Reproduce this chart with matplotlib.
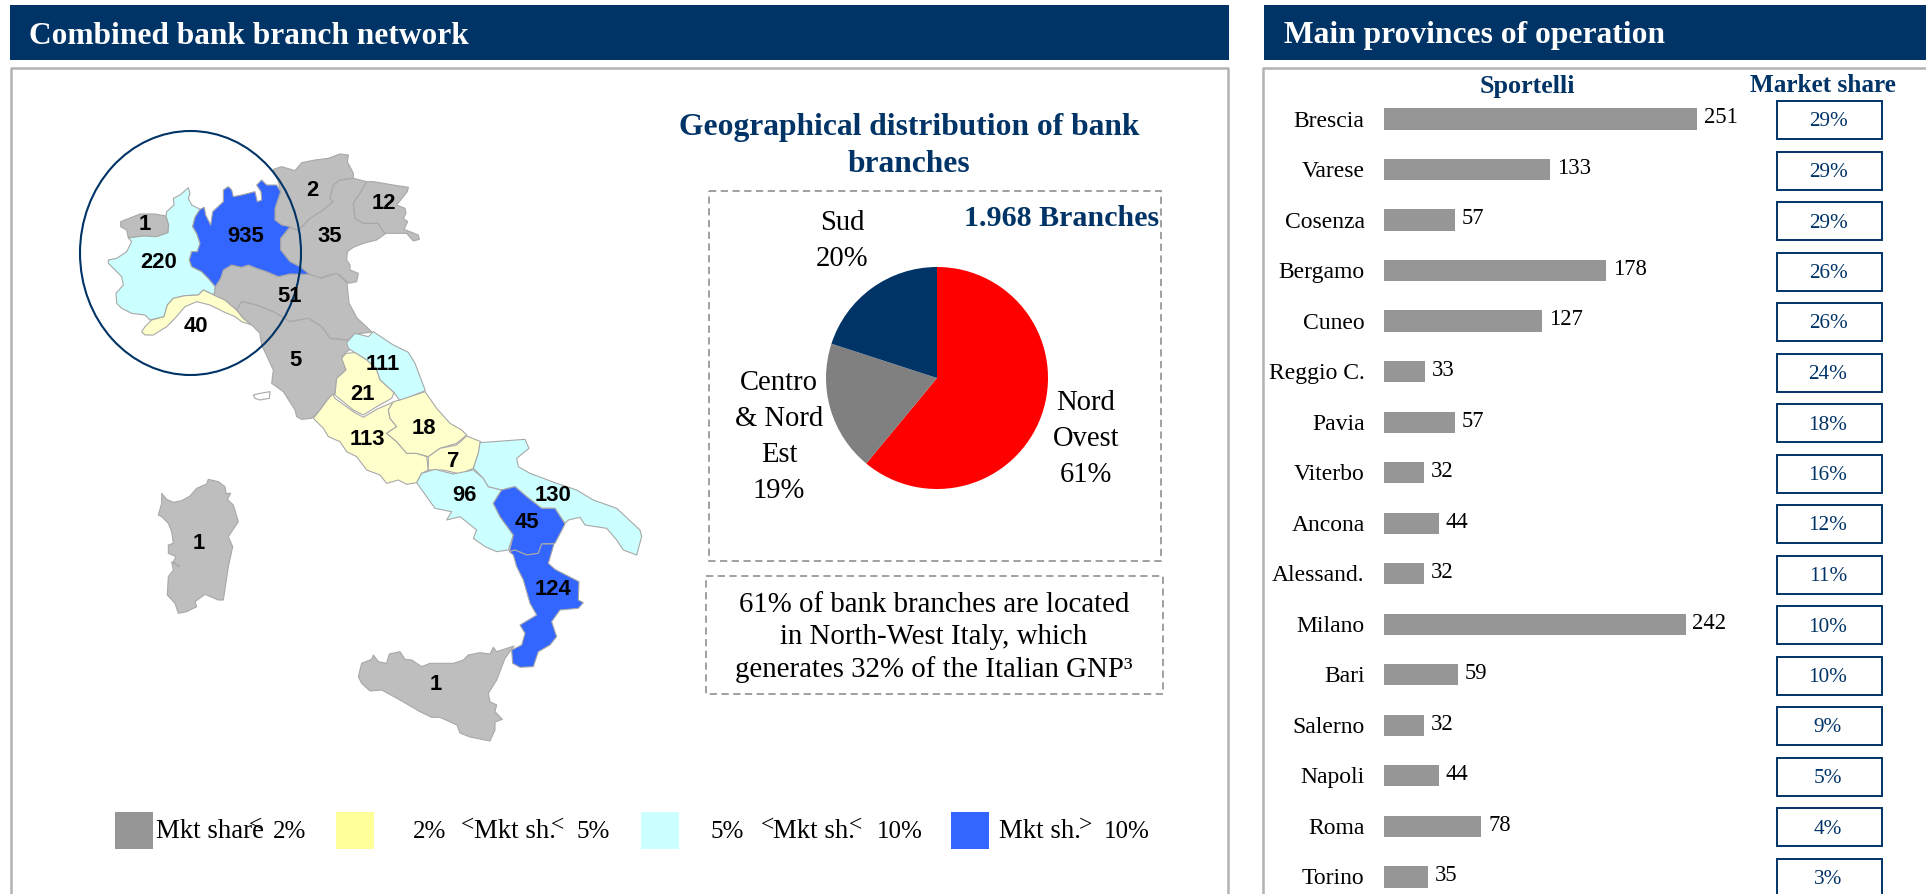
import matplotlib
matplotlib.use('Agg')
import matplotlib.pyplot as plt
from matplotlib.patches import Rectangle, Polygon, Ellipse

# chart values
provinces = ['Brescia', 'Varese', 'Cosenza', 'Bergamo', 'Cuneo', 'Reggio C.', 'Pavia', 'Viterbo',
             'Ancona', 'Alessand.', 'Milano', 'Bari', 'Salerno', 'Napoli', 'Roma', 'Torino']
sportelli = [251, 133, 57, 178, 127, 33, 57, 32, 44, 32, 242, 59, 32, 44, 78, 35]
market_share = ['29%', '29%', '29%', '26%', '26%', '24%', '18%', '16%',
                '12%', '11%', '10%', '10%', '9%', '5%', '4%', '3%']

pie_names = ['Nord\nOvest', 'Centro\n& Nord\nEst', 'Sud']
pie_values = [61, 19, 20]
pie_colors = ['#FF0000', '#808080', '#003366']

NAVY = '#003366'
FRAME = '#B2B2B2'
SERIF = 'Liberation Serif'


def z1(pts):
    return [(60 + x / 3, 130 + y / 3) for x, y in pts]


def z2(pts):
    return [(240 + x / 3, 320 + y / 3) for x, y in pts]


def z6(pts):
    return [(260 + x / 3, 140 + y / 3) for x, y in pts]


def z7(pts):
    return [(140 + x / 3, 460 + y / 3) for x, y in pts]


def z8(pts):
    return [(340 + x / 3, 630 + y / 3) for x, y in pts]


GREY, YEL, CYAN, BLUE = '#BEBEBE', '#FFFFCC', '#CCFFFF', '#3366FF'

regions = [
    (GREY, z1([(182, 275), (215, 262), (240, 252), (285, 252), (318, 258), (326, 285), (324, 308), (290, 320),
               (250, 318), (205, 324), (200, 300), (182, 290)])),
    (CYAN, z1([(385, 173), (390, 190), (385, 205), (395, 225), (420, 238), (405, 262), (398, 290), (410, 310),
               (420, 340), (412, 365), (395, 365), (388, 390), (395, 410), (425, 425), (445, 445), (466, 470),
               (462, 495), (430, 480), (415, 495), (375, 497), (340, 505), (322, 525), (312, 560), (270, 570),
               (255, 555), (215, 550), (185, 535), (170, 520), (168, 490), (190, 465), (185, 440), (165, 420),
               (145, 400), (145, 390), (170, 385), (200, 365), (215, 335), (205, 324), (250, 318), (290, 320),
               (324, 308), (326, 285), (318, 258), (320, 245), (342, 225), (340, 205), (360, 195)])),
    (YEL, z1([(245, 605), (255, 590), (275, 570), (312, 560), (322, 525), (340, 505), (375, 497), (415, 495),
              (430, 480), (462, 495), (495, 510), (530, 540), (550, 565), (575, 585), (545, 575), (525, 560),
              (490, 545), (450, 525), (410, 515), (375, 530), (345, 565), (320, 590), (280, 615), (255, 615)])),
    # Trentino
    (GREY, z6([(40, 88), (65, 80), (105, 92), (125, 68), (165, 60), (205, 55), (240, 42), (265, 45), (262, 65),
               (280, 100), (280, 115), (240, 120), (220, 135), (210, 175), (220, 185), (190, 210), (150, 235),
               (125, 262), (115, 272), (90, 262), (65, 255), (45, 240), (45, 205), (62, 155), (55, 125)])),
    # Veneto
    (GREY, z6([(115, 272), (125, 262), (150, 235), (190, 210), (220, 185), (210, 175), (220, 135), (240, 120),
               (280, 115), (320, 125), (300, 160), (280, 190), (285, 235), (310, 250), (355, 250), (370, 275),
               (378, 280), (350, 300), (310, 310), (280, 322), (262, 335), (260, 360), (270, 375), (270, 390),
               (295, 400), (290, 425), (265, 430), (240, 405), (210, 403), (180, 415), (148, 403), (120, 380),
               (90, 365), (62, 330), (62, 295), (90, 262)])),
    # Friuli
    (GREY, z6([(320, 125), (340, 125), (400, 135), (445, 142), (442, 155), (410, 195), (435, 205), (438, 220),
               (430, 235), (443, 245), (432, 268), (450, 275), (475, 285), (478, 298), (460, 303), (440, 280),
               (415, 280), (378, 280), (370, 275), (355, 250), (310, 250), (285, 235), (280, 190), (300, 160)])),
    # Emilia-Romagna
    (GREY, z1([(466, 470), (482, 445), (490, 420), (515, 405), (545, 412), (565, 405), (590, 415), (620, 425),
               (655, 440), (690, 432), (748, 433), (785, 445), (830, 430), (861, 459), (867, 519), (891, 564),
               (936, 606), (890, 612), (860, 630), (810, 625), (785, 590), (745, 565), (690, 575), (640, 545),
               (590, 525), (545, 515), (530, 540), (495, 510), (462, 495)])),
    # Toscana
    (GREY, z1([(530, 540), (545, 515), (590, 525), (640, 545), (690, 575), (745, 565), (785, 590), (810, 625),
               (860, 630), (890, 645)])
     + z2([(320, 95), (305, 110), (318, 150), (290, 175), (285, 220), (262, 240), (240, 270), (215, 295), (185, 298),
           (170, 290), (165, 270), (130, 215), (95, 190), (100, 150), (65, 75), (60, 45)])
     + z1([(600, 610), (575, 585), (550, 565)])),
    # Lombardia
    (BLUE, z1([(420, 238), (433, 232), (437, 255), (452, 285), (458, 245), (490, 215), (490, 180), (505, 170),
               (515, 180), (520, 200), (545, 195), (585, 185), (592, 215), (605, 210), (603, 185), (590, 165),
               (605, 150), (620, 165), (650, 165), (662, 185), (645, 235), (645, 270), (665, 285), (690, 290),
               (662, 325), (662, 360), (690, 395), (720, 410), (748, 433), (690, 432), (655, 440), (620, 425),
               (590, 415), (565, 405), (545, 412), (515, 405), (490, 420), (482, 445), (466, 470), (445, 445),
               (425, 425), (395, 410), (388, 390), (395, 365), (412, 365), (420, 340), (410, 310), (398, 290),
               (405, 262)])),
    # Marche
    (CYAN, z2([(320, 68), (345, 40), (385, 50), (400, 35), (460, 75), (505, 97), (525, 130), (556, 212), (480, 242),
               (462, 218), (420, 180), (408, 145), (380, 120), (345, 98), (325, 85)])),
    # Umbria
    (YEL, z2([(318, 100), (345, 98), (380, 120), (408, 145), (420, 180), (462, 218), (455, 235), (410, 260),
              (370, 285), (340, 270), (285, 225), (290, 175), (318, 150), (305, 115)])),
    # Lazio
    (YEL, z2([(220, 295), (240, 270), (262, 240), (278, 222), (285, 235), (340, 275), (370, 292), (410, 268),
              (460, 246), (445, 270), (450, 295), (470, 320), (440, 340), (470, 365), (500, 400), (530, 400),
              (560, 410), (565, 450), (545, 460), (530, 488), (500, 493), (475, 480), (440, 490), (420, 465),
              (380, 450), (350, 410), (320, 395), (300, 365), (265, 350), (250, 325)])),
    # Abruzzo
    (YEL, z2([(480, 240), (555, 215), (590, 265), (630, 310), (665, 330), (680, 345), (650, 370), (600, 385),
              (565, 410), (530, 400), (500, 400), (470, 365), (440, 340), (470, 320), (450, 295), (445, 270),
              (460, 245)])),
    # Molise
    (YEL, z2([(680, 348), (722, 365), (715, 400), (700, 445), (660, 462), (610, 450), (565, 450), (565, 410),
              (600, 385), (650, 375)])),
    # Campania
    (CYAN, z2([(530, 488), (545, 460), (585, 448), (640, 462), (700, 450), (730, 475), (745, 500), (785, 510),
               (760, 550), (780, 590), (820, 645), (805, 690), (770, 695), (735, 680), (700, 655), (710, 630),
               (660, 590), (620, 600), (635, 575), (585, 565), (560, 530)])),
    # Puglia
    (CYAN, z2([(720, 368), (855, 358), (867, 385), (830, 415), (835, 440), (870, 460), (950, 490), (1010, 510),
               (1060, 540), (1130, 565), (1200, 630), (1205, 650), (1190, 705), (1150, 690), (1130, 660), (1100, 625),
               (1035, 615), (1020, 592), (985, 600), (975, 610), (945, 565), (905, 565), (860, 530), (825, 500),
               (785, 510), (745, 500), (730, 475), (700, 445), (715, 400)])),
    # Basilicata
    (BLUE, z2([(785, 510), (825, 500), (860, 530), (905, 565), (945, 565), (975, 612), (945, 670), (905, 672),
               (895, 700), (860, 705), (825, 690), (808, 695), (820, 645), (780, 590), (760, 550)])),
    # Calabria
    (BLUE, z2([(808, 695), (825, 690), (860, 705), (895, 700), (905, 672), (942, 672), (925, 730), (945, 748),
               (1017, 785), (1015, 840), (1030, 848), (1015, 865), (960, 870), (935, 905), (950, 950), (930, 975),
               (895, 995), (880, 1040), (840, 1042), (818, 1030), (815, 990), (845, 975), (855, 940), (840, 915),
               (890, 885), (870, 850), (850, 780), (830, 740), (820, 705)])),
    # Sicilia
    (GREY, z8([(55, 140), (65, 100), (95, 88), (100, 75), (115, 95), (140, 100), (148, 72), (180, 65), (195, 88),
               (215, 90), (245, 110), (270, 100), (340, 100), (370, 90), (385, 75), (420, 68), (450, 72), (460, 52),
               (470, 65), (522, 48), (495, 85), (470, 150), (445, 190), (450, 215), (470, 225), (465, 245),
               (487, 268), (465, 276), (465, 300), (450, 333), (390, 321), (360, 309), (351, 285), (300, 262),
               (275, 262), (240, 245), (180, 210), (125, 180), (90, 183), (65, 160)])),
    # Sardegna
    (GREY, z7([(65, 100), (80, 118), (100, 127), (125, 122), (150, 108), (170, 85), (200, 72), (205, 58), (235, 65),
               (255, 80), (258, 100), (272, 100), (262, 118), (280, 135), (295, 185), (265, 230), (278, 260),
               (265, 320), (250, 420), (235, 420), (195, 403), (165, 425), (170, 440), (140, 455), (115, 460),
               (105, 430), (82, 405), (85, 350), (100, 330), (95, 305), (118, 320), (100, 305), (108, 290), (85, 280),
               (85, 255), (100, 250), (95, 215), (85, 190), (65, 170), (55, 165), (65, 130)])),
    # Elba
    ('white', z1([(580, 795), (600, 790), (630, 785), (628, 805), (600, 810), (585, 805)])),
]

# branch counts on the map
map_counts = ['1', '220', '935', '40', '51', '5', '35']
map_count_pos = z1([(255, 278), (297, 392), (558, 315), (407, 585), (688, 495), (705, 688), (810, 315)])
map_counts += ['2', '12']
map_count_pos += z6([(158, 147), (373, 187)])
map_counts += ['111', '21', '113', '18', '7', '96', '130', '45', '124', '1']
map_count_pos += z2([(428, 128), (368, 218), (382, 355), (553, 320), (640, 420), (673, 523), (940, 523), (862, 602),
                     (940, 805), (587, 1090)])
map_counts += ['1']
map_count_pos += z7([(175, 247)])

fig = plt.figure(figsize=(19.26, 8.94), dpi=100)

# page layer, works in picture pixels
ax = fig.add_axes([0, 0, 1, 1])
ax.set_xlim(0, 1926)
ax.set_ylim(894, 0)
ax.axis('off')

# headers and panel frames
ax.add_patch(Rectangle((10, 5), 1219, 55, fc=NAVY, ec='none'))
ax.add_patch(Rectangle((1264, 5), 662, 55, fc=NAVY, ec='none'))
ax.text(29, 36, 'Combined bank branch network', color='white', fontsize=22.6, fontweight='bold',
        family=SERIF, va='center')
ax.text(1284, 36, 'Main provinces of operation', color='white', fontsize=22.7, fontweight='bold',
        family=SERIF, va='center')
ax.plot([11, 11, 1228, 1228], [894, 68, 68, 894], color=FRAME, lw=1.8)
ax.plot([1263, 1263, 1926], [894, 68, 68], color=FRAME, lw=1.8)

# map
for color, pts in regions:
    ax.add_patch(Polygon(pts, closed=True, fc=color, ec='#A8A8A8', lw=0.8, joinstyle='round'))
ax.add_patch(Ellipse((190.5, 253), 221, 244, fc='none', ec=NAVY, lw=1.5))
for label, (x, y) in zip(map_counts, map_count_pos):
    ax.text(x, y + 1.5, label, fontsize=15.8, fontweight='bold', family='Liberation Sans', ha='center', va='center')

# pie panel
ax.text(909, 128, 'Geographical distribution of bank', color=NAVY, fontsize=22.7, fontweight='bold',
        family=SERIF, ha='center', va='center')
ax.text(909, 165, 'branches', color=NAVY, fontsize=22.7, fontweight='bold', family=SERIF, ha='center', va='center')
dash = dict(fc='none', ec='#999999', lw=1.3, ls=(0, (4, 2.5)))
ax.add_patch(Rectangle((709, 191), 452, 370, **dash))
ax.add_patch(Rectangle((706, 576), 457, 118, **dash))
ax.text(1159, 219, '1.968 Branches', color=NAVY, fontsize=21.6, fontweight='bold', family=SERIF,
        ha='right', va='center')

pie_label_pos = [(1086, 403.5), (779, 383.5), (842, 223.5)]
for name, value, (x, y) in zip(pie_names, pie_values, pie_label_pos):
    for i, line in enumerate(name.split('\n') + ['%d%%' % value]):
        ax.text(x, y + i * 36, line, fontsize=20.6, family=SERIF, ha='center', va='center')

for i, line in enumerate(['61% of bank branches are located', 'in North-West Italy, which',
                          'generates 32% of the Italian GNP³']):
    ax.text(934, 605 + i * 32.5, line, fontsize=20.8, family=SERIF, ha='center', va='center')

# legend of the map
legend_colors = ['#969696', '#FFFF99', '#CCFFFF', '#3366FF']
legend_x = [115, 336, 641, 951]
for color, x in zip(legend_colors, legend_x):
    ax.add_patch(Rectangle((x, 812), 38, 37, fc=color, ec='none'))
legend_names = [('Mkt share', 156), ('Mkt sh.', 474), ('Mkt sh.', 773), ('Mkt sh.', 999)]
for label, x in legend_names:
    ax.text(x, 832, label, fontsize=19.3, family=SERIF, va='center')
legend_bounds = [('2%', 273), ('2%', 413), ('5%', 577), ('5%', 711), ('10%', 877), ('10%', 1104)]
for label, x in legend_bounds:
    ax.text(x, 832, label, fontsize=18, family=SERIF, va='center')
for sign, x in [('<', 255), ('<', 468), ('<', 557), ('<', 767), ('<', 856), ('>', 1085)]:
    ax.text(x, 826, sign, fontsize=17, family=SERIF, ha='center', va='center')

# right panel, column heads and market share boxes
ax.text(1527.5, 86, 'Sportelli', color=NAVY, fontsize=18.8, fontweight='bold', family=SERIF, ha='center', va='center')
ax.text(1823, 86, 'Market share', color=NAVY, fontsize=18.2, fontweight='bold', family=SERIF, ha='center', va='center')
for i, share in enumerate(market_share):
    yc = 120 + 50.5 * i
    ax.add_patch(Rectangle((1777, yc - 19), 105, 38, fc='white', ec=NAVY, lw=1.4))
    ax.text(1828, yc + 2, share, color=NAVY, fontsize=15.3, family=SERIF, ha='center', va='center')

# bars, one row every 50.53 px and 1.246 px per branch
bar_left, bar_top = 1384, 93.7
ax_bar = fig.add_axes([bar_left / 1926, 0, 380 / 1926, 1 - bar_top / 894])
ax_bar.patch.set_alpha(0)
ax_bar.set_xlim(0, 380 / 1.246)
ax_bar.set_ylim(-0.5 + (894 - bar_top) / 50.53, -0.5)
ax_bar.axis('off')
rows = list(range(len(provinces)))
ax_bar.barh(rows, sportelli, height=0.42, color='#969696')
for row, name, value in zip(rows, provinces, sportelli):
    ax_bar.annotate(str(value), (value, row), xytext=(5, 0.8), textcoords='offset points', fontsize=16.3,
                    family=SERIF, va='center', annotation_clip=False)
    ax_bar.annotate(name, (0, row), xytext=(-14, -1.5), textcoords='offset points', fontsize=17,
                    family=SERIF, ha='right', va='center', annotation_clip=False)

# pie centred at 937,378 with 111 px radius
ax_pie = fig.add_axes([(937 - 111) / 1926, 1 - (378 + 111) / 894, 222 / 1926, 222 / 894])
ax_pie.pie(pie_values, colors=pie_colors, startangle=90, counterclock=False, radius=1)
ax_pie.set_xlim(-1, 1)
ax_pie.set_ylim(-1, 1)

fig.savefig('out.png', dpi=100)
